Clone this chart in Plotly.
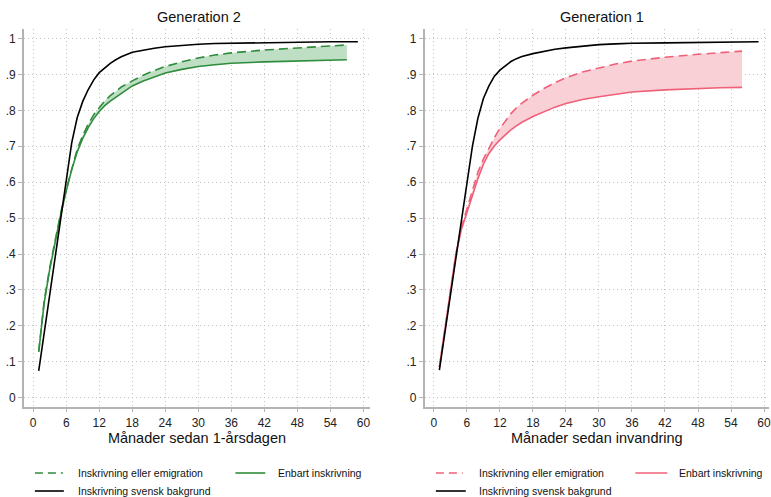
import plotly.graph_objects as go

# ---- data: share enrolled by months since start ----
months_bg = [1, 2, 3, 4, 5, 6, 7, 8, 9, 10, 11, 12, 13, 14, 15, 16,
             18, 20, 22, 24, 27, 30, 33, 36, 42, 48, 54, 59]
months_g2 = [1, 2, 3, 4, 5, 6, 7, 8, 9, 10, 11, 12, 13, 14, 15, 16,
             18, 20, 22, 24, 27, 30, 33, 36, 42, 48, 54, 57]
months_g1 = [1, 2, 3, 4, 5, 6, 7, 8, 9, 10, 11, 12, 13, 14, 15, 16,
             18, 20, 22, 24, 27, 30, 33, 36, 42, 48, 52, 56]

# Generation 2 (months since first birthday)
g2_swedish = [0.075, 0.18, 0.29, 0.39, 0.50, 0.595, 0.71, 0.78, 0.825, 0.858,
              0.885, 0.905, 0.919, 0.931, 0.941, 0.949, 0.962, 0.968, 0.973,
              0.977, 0.981, 0.984, 0.986, 0.987, 0.989, 0.990, 0.991, 0.991]
g2_enrol_or_emig = [0.128, 0.27, 0.362, 0.443, 0.515, 0.58, 0.64, 0.692, 0.73,
                    0.762, 0.788, 0.808, 0.826, 0.841, 0.854, 0.865, 0.882,
                    0.898, 0.911, 0.922, 0.935, 0.946, 0.954, 0.960, 0.968,
                    0.974, 0.979, 0.982]
g2_enrol_only = [0.128, 0.265, 0.357, 0.438, 0.51, 0.575, 0.635, 0.685, 0.722,
                 0.752, 0.777, 0.797, 0.813, 0.826, 0.837, 0.847, 0.868,
                 0.882, 0.894, 0.904, 0.914, 0.922, 0.927, 0.931, 0.935,
                 0.938, 0.940, 0.941]

# Generation 1 (months since immigration)
g1_swedish = [0.077, 0.18, 0.29, 0.39, 0.49, 0.595, 0.70, 0.778, 0.833, 0.868,
              0.895, 0.912, 0.925, 0.936, 0.944, 0.950, 0.958, 0.965, 0.970,
              0.974, 0.979, 0.983, 0.985, 0.987, 0.988, 0.989, 0.990, 0.991]
g1_enrol_or_emig = [0.085, 0.19, 0.295, 0.40, 0.474, 0.526, 0.58, 0.628, 0.664,
                    0.695, 0.724, 0.75, 0.772, 0.791, 0.807, 0.82, 0.842, 0.861,
                    0.877, 0.891, 0.907, 0.919, 0.929, 0.937, 0.948, 0.956,
                    0.961, 0.965]
g1_enrol_only = [0.085, 0.19, 0.295, 0.40, 0.468, 0.513, 0.562, 0.61, 0.65,
                 0.68, 0.701, 0.718, 0.733, 0.746, 0.757, 0.767, 0.783, 0.797,
                 0.809, 0.819, 0.83, 0.838, 0.845, 0.851, 0.857, 0.861,
                 0.863, 0.864]

x_ticks = [0, 6, 12, 18, 24, 30, 36, 42, 48, 54, 60]
y_ticks = [0, 0.1, 0.2, 0.3, 0.4, 0.5, 0.6, 0.7, 0.8, 0.9, 1.0]
y_ticktext = ["0", ".1", ".2", ".3", ".4", ".5", ".6", ".7", ".8", ".9", "1"]

panel_titles = ["Generation 2", "Generation 1"]
x_titles = ["Månader sedan 1-årsdagen", "Månader sedan invandring"]
legend_labels = ["Inskrivning eller emigration", "Enbart inskrivning",
                 "Inskrivning svensk bakgrund"]

GREEN = "#2f8c3c"
GREEN_FILL = "#bfdfc5"
PINK = "#ef6079"
PINK_FILL = "#fad0d7"
BLACK = "#000000"
FONT = "Arial, Liberation Sans, sans-serif"
W, H = 771, 497

fig = go.Figure()


def add_panel(months, bg_months, upper, lower, swedish, color, fill, xa, ya):
    fig.add_trace(go.Scatter(
        x=months + months[::-1], y=upper + lower[::-1],
        fill="toself", fillcolor=fill, line=dict(width=0),
        mode="lines", hoverinfo="skip", showlegend=False, xaxis=xa, yaxis=ya))
    fig.add_trace(go.Scatter(
        x=months, y=upper, mode="lines", showlegend=False,
        line=dict(color=color, width=1.6, dash="9px,5px"), xaxis=xa, yaxis=ya))
    fig.add_trace(go.Scatter(
        x=months, y=lower, mode="lines", showlegend=False,
        line=dict(color=color, width=1.6), xaxis=xa, yaxis=ya))
    fig.add_trace(go.Scatter(
        x=bg_months, y=swedish, mode="lines", showlegend=False,
        line=dict(color=BLACK, width=1.6), xaxis=xa, yaxis=ya))


add_panel(months_g2, months_bg, g2_enrol_or_emig, g2_enrol_only, g2_swedish,
          GREEN, GREEN_FILL, "x", "y")
add_panel(months_g1, months_bg, g1_enrol_or_emig, g1_enrol_only, g1_swedish,
          PINK, PINK_FILL, "x2", "y2")

# plot-area geometry in pixels
left_px = [24, 371]
right_px = [425.7, 771]
top_px, bottom_px = 29, 406.7
xr_left = [-1.686, 61.21]
xr_right = [-1.686, 60.9]
yr = [-0.025, 1.0265]
ydom = [1 - bottom_px / H, 1 - top_px / H]

axis_common = dict(
    showline=True, linecolor="#b3b3b3", linewidth=1.5,
    ticks="outside", ticklen=4, tickcolor="#b3b3b3", tickwidth=1.2,
    showgrid=True, gridcolor="#c2c2c2", gridwidth=1, griddash="1px,3px",
    zeroline=False, tickfont=dict(family=FONT, size=12, color="#222"),
    ticklabeloverflow="allow",
)

for i, (px, xr) in enumerate([(left_px, xr_left), (right_px, xr_right)]):
    sfx = "" if i == 0 else "2"
    fig.update_layout(**{
        "xaxis" + sfx: dict(axis_common, domain=[px[0] / W, px[1] / W],
                            range=xr, tickvals=x_ticks, anchor="y" + sfx,
                            title=dict(text=x_titles[i], standoff=4,
                                       font=dict(family=FONT, size=14.5,
                                                 color="#111"))),
        "yaxis" + sfx: dict(axis_common, domain=ydom, range=yr,
                            tickvals=y_ticks, ticktext=y_ticktext,
                            anchor="x" + sfx),
    })

annotations = []
shapes = []
centers = [(24 + 371) / 2 + 2, (425.7 + 772.7) / 2 + 4]
for c, t in zip(centers, panel_titles):
    annotations.append(dict(
        x=c / W, y=1 - 17 / H, xref="paper", yref="paper", text=t,
        showarrow=False, xanchor="center", yanchor="middle",
        font=dict(family=FONT, size=14.5, color="#111")))

# legends below each panel
legend_specs = [
    (GREEN, [(35, 63, 76), (236, 266, 277), (35, 64, 76)]),
    (PINK, [(437, 464, 478), (637, 669, 679), (437, 467, 478)]),
]
rows_y = [473, 491]
for color, items in legend_specs:
    styles = [(color, "dash"), (color, "solid"), (BLACK, "solid")]
    rows = [rows_y[0], rows_y[0], rows_y[1]]
    for (x0, x1, tx), (col, dash), ry, lab in zip(items, styles, rows,
                                                  legend_labels):
        shapes.append(dict(
            type="line", xref="paper", yref="paper",
            x0=x0 / W, x1=x1 / W, y0=1 - ry / H, y1=1 - ry / H,
            line=dict(color=col, width=1.6,
                      dash="8px,5px" if dash == "dash" else "solid")))
        annotations.append(dict(
            x=tx / W, y=1 - ry / H, xref="paper", yref="paper", text=lab,
            showarrow=False, xanchor="left", yanchor="middle",
            font=dict(family=FONT, size=10.5, color="#111")))

fig.update_layout(
    width=W, height=H, margin=dict(l=0, r=0, t=0, b=0),
    paper_bgcolor="white", plot_bgcolor="white",
    annotations=annotations, shapes=shapes, showlegend=False,
)

fig.write_html("out.html")
